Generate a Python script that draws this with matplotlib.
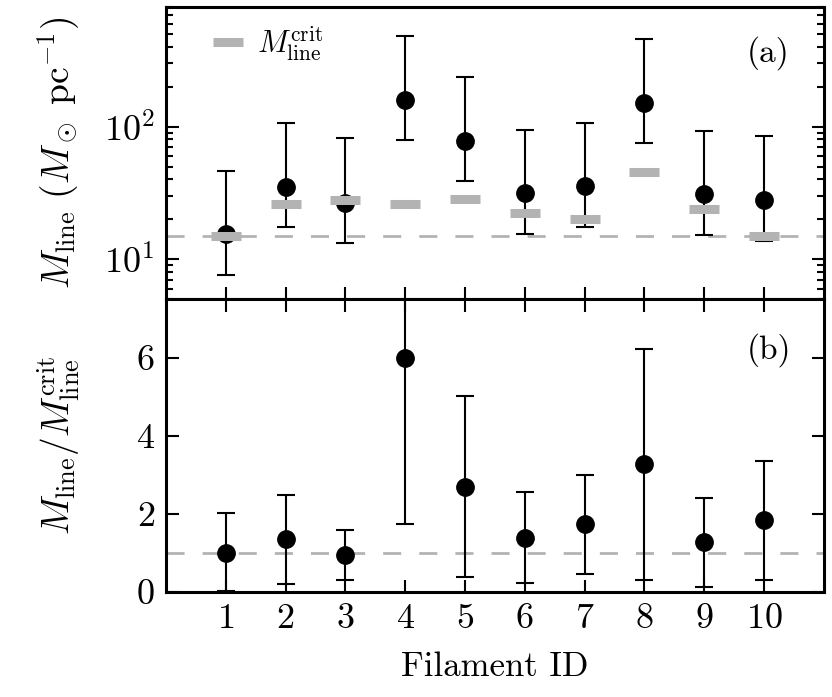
import matplotlib
matplotlib.use('Agg')
import matplotlib.pyplot as plt
import numpy as np
from matplotlib.ticker import NullFormatter

plt.rcParams['font.family'] = 'serif'
plt.rcParams['font.serif'] = ['cmr10', 'DejaVu Serif']
plt.rcParams['mathtext.fontset'] = 'cm'
plt.rcParams['axes.formatter.use_mathtext'] = True

# values
filament_id = [1, 2, 3, 4, 5, 6, 7, 8, 9, 10]
mline = [15.5, 35.2, 26.4, 158, 78.3, 31.4, 35.6, 152, 30.8, 27.9]
mline_hi = [46.2, 106, 81.6, 483, 237, 94.8, 106, 458, 92.2, 84.5]
mline_lo = [7.6, 17.4, 13.3, 78.8, 38.9, 15.6, 17.6, 75.6, 15.1, 13.8]
mcrit = [15.0, 26.0, 27.9, 26.0, 28.6, 22.4, 20.2, 45.7, 23.8, 15.0]
ratio = [1.01, 1.35, 0.94, 6.0, 2.70, 1.39, 1.73, 3.28, 1.27, 1.84]
ratio_hi = [2.03, 2.48, 1.59, 18.0, 5.02, 2.56, 2.99, 6.23, 2.41, 3.36]
ratio_lo = [0.03, 0.20, 0.31, 1.73, 0.38, 0.22, 0.47, 0.31, 0.13, 0.31]
mcrit_ref = 15.0
ratio_ref = 1.0

x = np.array(filament_id)
mline = np.array(mline)
ratio = np.array(ratio)
err_top = [mline - np.array(mline_lo), np.array(mline_hi) - mline]
err_bot = [ratio - np.array(ratio_lo), np.array(ratio_hi) - ratio]

grey = '#b3b3b3'
fig = plt.figure(figsize=(8.32, 6.97), dpi=100)
ax1 = fig.add_axes([0.1995, 0.571, 0.7905, 0.419])
ax2 = fig.add_axes([0.1995, 0.1506, 0.7905, 0.4204])

ax1.axhline(mcrit_ref, color=grey, lw=2, dashes=(6.5, 6.5), zorder=1)
ax1.errorbar(x, mline, yerr=err_top, fmt='o', color='k', ms=12.5,
             elinewidth=1.5, capsize=6.4, capthick=1.5, zorder=2)
ax1.plot(x, mcrit, ls='none', marker='_', ms=21, mew=6.5, color=grey,
         zorder=3, label=r'$M_{\rm line}^{\rm crit}$')
ax1.set_yscale('log')
ax1.set_ylim(5, 800)
ax1.set_xlim(0, 11)
ax1.set_xticks(filament_id)
ax1.set_xticklabels([])
ax1.yaxis.set_minor_formatter(NullFormatter())
ax1.set_ylabel(r'$M_{\rm line}\ (M_\odot\ {\rm pc}^{-1})$', fontsize=27)
ax1.yaxis.set_label_coords(-0.128, 0.5)
ax1.legend(loc='center left', bbox_to_anchor=(0.053, 0.875),
           borderaxespad=0, frameon=False, fontsize=22, numpoints=1,
           handlelength=1.0, handletextpad=0.44)
ax1.text(0.948, 0.842, '(a)', transform=ax1.transAxes, ha='right',
         va='center', fontsize=24)
ax1.tick_params(which='both', direction='in', right=True, top=False,
                width=1.5, labelsize=26, pad=8)
ax1.tick_params(which='major', length=9)
ax1.tick_params(which='minor', length=5)

ax2.axhline(ratio_ref, color=grey, lw=2, dashes=(6.5, 6.5), zorder=1)
ax2.errorbar(x, ratio, yerr=err_bot, fmt='o', color='k', ms=12.5,
             elinewidth=1.5, capsize=6.4, capthick=1.5, zorder=2)
ax2.set_ylim(0, 7.5)
ax2.set_xlim(0, 11)
ax2.set_xticks(filament_id)
ax2.set_yticks([0, 2, 4, 6])
ax2.set_xlabel('Filament ID', fontsize=25, labelpad=12)
ax2.set_ylabel(r'$M_{\rm line}/M_{\rm line}^{\rm crit}$', fontsize=27)
ax2.yaxis.set_label_coords(-0.128, 0.5)
ax2.text(0.951, 0.825, '(b)', transform=ax2.transAxes, ha='right',
         va='center', fontsize=24)
ax2.tick_params(which='both', direction='in', right=True, top=True,
                width=1.5, labelsize=26, pad=8, length=9)

for ax in (ax1, ax2):
    for s in ax.spines.values():
        s.set_linewidth(2.2)

fig.savefig('out.png', dpi=100)
